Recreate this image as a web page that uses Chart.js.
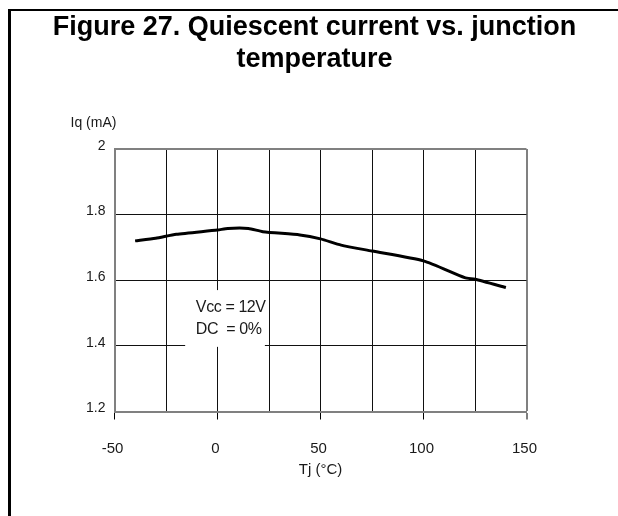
<!DOCTYPE html>
<html>
<head>
<meta charset="utf-8">
<script src="https://cdn.jsdelivr.net/npm/chart.js@4.4.1/dist/chart.umd.min.js"></script>
<style>
  html, body { margin: 0; padding: 0; background: #fff; overflow: hidden; width: 618px; height: 516px; }
  #frame { position: absolute; left: 8px; top: 9px; width: 700px; height: 600px; border-left: 3px solid #000; border-top: 2px solid #000; }
  #wrap { position: absolute; left: 0; top: 0; width: 618px; height: 516px; }
</style>
</head>
<body>
<div id="frame"></div>
<div id="wrap"><canvas id="myChart" width="618" height="516"></canvas></div>
<script>
//chart values
const temps = [-40, -30, -20, 0, 5, 15, 22, 40, 50, 60, 75, 100, 120, 125, 140];
const iq = [1.72, 1.728, 1.74, 1.753, 1.758, 1.758, 1.748, 1.738, 1.726, 1.707, 1.689, 1.659, 1.608, 1.603, 1.578];
const xTickLabels = [-50, 0, 50, 100, 150];
const yTickLabels = [1.2, 1.4, 1.6, 1.8, 2];
const noteLines = ['Vcc = 12V', 'DC  = 0%'];

const FONT = '"Liberation Sans", Arial, sans-serif';
Chart.defaults.font.family = FONT;

const isLabelled = v => xTickLabels.some(t => Math.abs(t - v) < 1e-6);

//note box and y axis caption
const notes = {
  id: 'notes',
  beforeDatasetsDraw(chart) {
    const {ctx, scales: {x, y}} = chart;
    const l = x.getPixelForValue(-15.7), r = x.getPixelForValue(23);
    const t = y.getPixelForValue(1.570), b = y.getPixelForValue(1.397);
    ctx.save();
    ctx.fillStyle = '#fff';
    ctx.fillRect(l, t, r - l, b - t);
    ctx.fillStyle = '#1a1a1a';
    ctx.font = '16px ' + FONT;
    ctx.letterSpacing = '-0.4px';
    ctx.textBaseline = 'alphabetic';
    ctx.fillText(noteLines[0], x.getPixelForValue(-10.5), y.getPixelForValue(1.504));
    ctx.fillText(noteLines[1], x.getPixelForValue(-10.5), y.getPixelForValue(1.436));
    ctx.restore();
  },
  afterDraw(chart) {
    const {ctx, chartArea} = chart;
    ctx.save();
    ctx.fillStyle = '#1a1a1a';
    ctx.font = '14px ' + FONT;
    ctx.textAlign = 'center';
    ctx.textBaseline = 'middle';
    ctx.fillText('Iq (mA)', chartArea.left - 21, chartArea.top - 26);
    ctx.restore();
  }
};

const ctx = document.getElementById('myChart').getContext('2d');
const myChart = new Chart(ctx, {
  type: 'line',
  data: {
    datasets: [{
      data: temps.map((t, i) => ({x: t, y: iq[i]})),
      borderColor: '#000',
      borderWidth: 3,
      pointRadius: 0,
      tension: 0.2,
      fill: false
    }]
  },
  options: {
    responsive: false,
    animation: false,
    layout: { padding: { left: 11, right: 0, top: 0, bottom: 0 } },
    plugins: {
      legend: { display: false },
      tooltip: { enabled: false },
      title: {
        display: true,
        text: ['Figure 27. Quiescent current vs. junction', 'temperature'],
        color: '#000',
        font: { size: 27, weight: 'bold', lineHeight: 1.2 },
        padding: { top: 11, bottom: 73.2 }
      }
    },
    scales: {
      x: {
        type: 'linear',
        min: -50,
        max: 150,
        ticks: {
          stepSize: 25,
          autoSkip: false,
          maxRotation: 0,
          padding: 20,
          labelOffset: -2,
          color: '#1a1a1a',
          font: { size: 15 },
          callback: v => isLabelled(v) ? String(v) : ''
        },
        grid: {
          color: c => c.tick && c.tick.value === 150 ? '#808080' : '#111',
          lineWidth: c => c.tick && c.tick.value === 150 ? 2 : 1,
          tickLength: 8,
          tickWidth: 1,
          tickColor: c => c.tick && isLabelled(c.tick.value) ? '#000' : 'rgba(0,0,0,0)'
        },
        border: { color: '#808080', width: 2 },
        title: {
          display: true,
          text: 'Tj (°C)',
          color: '#1a1a1a',
          font: { size: 15 },
          padding: { top: 0, bottom: 37 }
        },
        afterFit: s => { s.height = 104.5; }
      },
      y: {
        min: 1.2,
        max: 2,
        ticks: {
          stepSize: 0.2,
          padding: 9,
          labelOffset: -3,
          color: '#1a1a1a',
          font: { size: 14 },
          callback: v => String(Math.round(v * 10) / 10)
        },
        grid: {
          drawTicks: false,
          color: c => c.tick && Math.abs(c.tick.value - 2) < 1e-6 ? '#808080' : '#111',
          lineWidth: c => c.tick && Math.abs(c.tick.value - 2) < 1e-6 ? 2 : 1
        },
        border: { color: '#808080', width: 2 },
        afterFit: s => { s.width = 103.5; }
      },
      //empty right axis only keeps room on the right of the plot
      yPad: {
        position: 'right',
        grid: { display: false },
        border: { display: false },
        ticks: { display: false },
        afterFit: s => { s.width = 91.5; }
      }
    }
  },
  plugins: [notes]
});
</script>
</body>
</html>
